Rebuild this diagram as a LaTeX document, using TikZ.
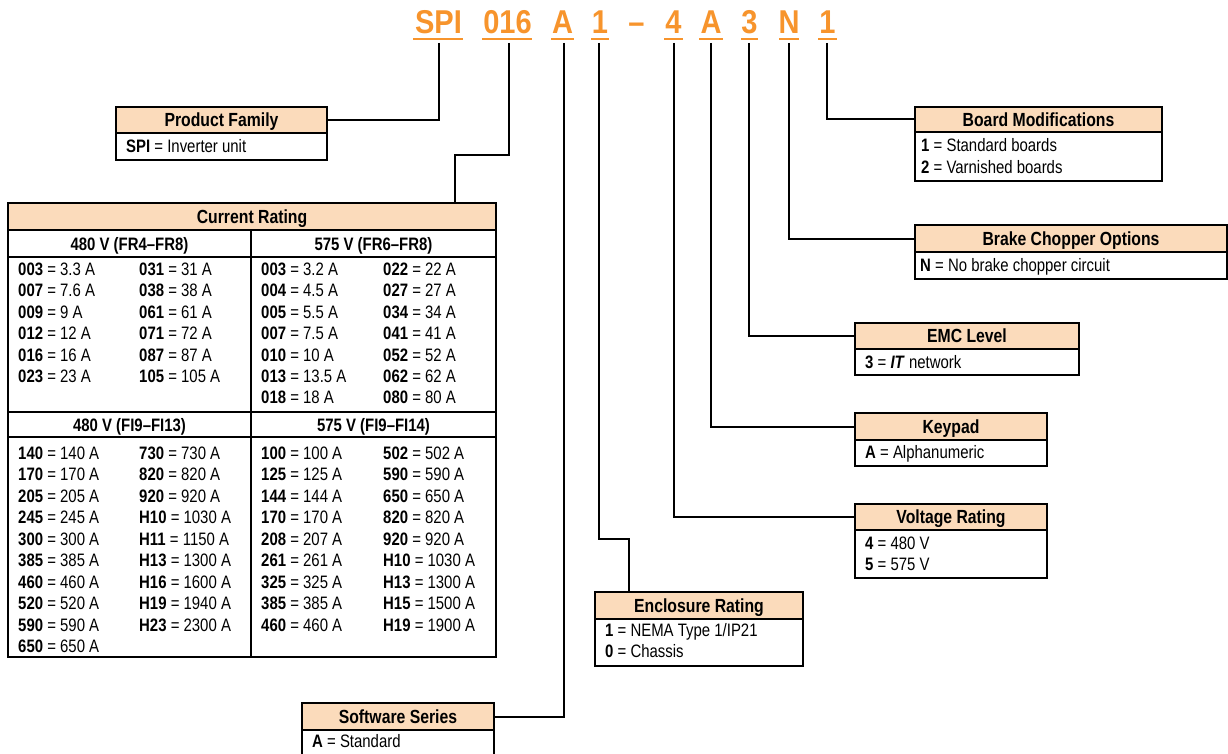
\documentclass[tikz,border=0pt]{standalone}
\usepackage{fontspec}
\setmainfont{Liberation Sans}[FakeStretch=0.83]
\newfontfamily\codefnt{Liberation Sans}[FakeStretch=0.88]
\definecolor{codeorange}{RGB}{247,148,44}
\definecolor{peach}{RGB}{251,219,187}
\newcommand\hdrfnt{\bfseries\fontsize{19}{22}\selectfont}
\newcommand\subfnt{\bfseries\fontsize{18}{21}\selectfont}
\newcommand\bodyfnt{\fontsize{18}{21}\selectfont}
\begin{document}
\begin{tikzpicture}[x=1pt,y=-1pt,
  conn/.style={line width=2pt},
  uline/.style={line width=2.4pt, draw=codeorange},
  codeltr/.style={font=\codefnt\bfseries\fontsize{33}{33}\selectfont, text=codeorange, inner sep=0pt, anchor=base},
  hdr/.style={draw, line width=1.1pt, fill=peach, inner sep=0pt, font=\hdrfnt, text height=13.6pt, text depth=0pt},
  subhdr/.style={inner sep=0pt, font=\subfnt, text height=13pt, text depth=0pt},
  bodybox/.style={draw, line width=1.1pt, inner sep=0pt},
  entry/.style={anchor=base west, inner sep=0pt, font=\bodyfnt},
  rule/.style={line width=1.1pt}]
\fill[white] (0,0) rectangle (1228,754);
\useasboundingbox (0,0) rectangle (1228,754);
\clip (0,0) rectangle (1228,754);

% ---- model code ----
\node[codeltr] (cSPI) at (438.5,34) {SPI};
\node[codeltr] (c016) at (507.5,34) {016};
\node[codeltr] (cA1) at (562.5,34) {A};
\node[codeltr] (c1a) at (600,34) {1};
\node[codeltr] (cdash) at (636.5,34) {–};
\node[codeltr] (c4) at (673.5,34) {4};
\node[codeltr] (cA2) at (711,34) {A};
\node[codeltr] (c3) at (749.5,34) {3};
\node[codeltr] (cN) at (789,34) {N};
\node[codeltr] (c1b) at (827.5,34) {1};
\draw[uline] (413,39) -- (463,39);
\draw[uline] (482,39) -- (532,39);
\draw[uline] (551,39) -- (574,39);
\draw[uline] (591,39) -- (609,39);
\draw[uline] (664,39) -- (683,39);
\draw[uline] (699,39) -- (723,39);
\draw[uline] (741,39) -- (758,39);
\draw[uline] (779,39) -- (799,39);
\draw[uline] (818,39) -- (837,39);

\foreach \n/\x in {SPI/439,016/509,A1/564,1a/599,4/674,A2/711,3/749,N/789,1b/827}
  \coordinate (s\n) at (\x,43);

% ---- Product Family ----
\node[bodybox, minimum width=211pt, minimum height=27pt] (pfb) at (221.5,146.5) {};
\node[hdr, minimum width=211pt, minimum height=26pt] (pfh) at (221.5,120) {Product Family};
\node[entry] (pft) at (126,152.5) {\textbf{SPI} = Inverter unit};

% ---- Current Rating table ----
\node[bodybox, minimum width=488pt, minimum height=427pt] (crb) at (252,443.5) {};
\node[hdr, minimum width=488pt, minimum height=27pt] (crh) at (252,216.5) {Current Rating};
\draw[rule] (8,257) -- (496,257);
\draw[rule] (8,412) -- (496,412);
\draw[rule] (8,437) -- (496,437);
\draw[rule] (251,230) -- (251,657);
\node[subhdr] (sa) at (129.5,243.5) {480 V (FR4–FR8)};
\node[subhdr] (sb) at (373.5,243.5) {575 V (FR6–FR8)};
\node[subhdr] (sc) at (129.5,424.5) {480 V (FI9–FI13)};
\node[subhdr] (sd) at (373.5,424.5) {575 V (FI9–FI14)};
\foreach \c/\v [count=\i from 0] in {003/3.3,007/7.6,009/9,012/12,016/16,023/23}
  \node[entry] (ta\i) at (18,{275.5+21.4*\i}) {\textbf{\c} = \v\ A};
\foreach \c/\v [count=\i from 0] in {031/31,038/38,061/61,071/72,087/87,105/105}
  \node[entry] (tb\i) at (139,{275.5+21.4*\i}) {\textbf{\c} = \v\ A};
\foreach \c/\v [count=\i from 0] in {003/3.2,004/4.5,005/5.5,007/7.5,010/10,013/13.5,018/18}
  \node[entry] (tc\i) at (261,{275.5+21.4*\i}) {\textbf{\c} = \v\ A};
\foreach \c/\v [count=\i from 0] in {022/22,027/27,034/34,041/41,052/52,062/62,080/80}
  \node[entry] (td\i) at (383,{275.5+21.4*\i}) {\textbf{\c} = \v\ A};
\foreach \c/\v [count=\i from 0] in {140/140,170/170,205/205,245/245,300/300,385/385,460/460,520/520,590/590,650/650}
  \node[entry] (te\i) at (18,{459+21.5*\i}) {\textbf{\c} = \v\ A};
\foreach \c/\v [count=\i from 0] in {730/730,820/820,920/920,H10/1030,H11/1150,H13/1300,H16/1600,H19/1940,H23/2300}
  \node[entry] (tf\i) at (139,{459+21.5*\i}) {\textbf{\c} = \v\ A};
\foreach \c/\v [count=\i from 0] in {100/100,125/125,144/144,170/170,208/207,261/261,325/325,385/385,460/460}
  \node[entry] (tg\i) at (261,{459+21.5*\i}) {\textbf{\c} = \v\ A};
\foreach \c/\v [count=\i from 0] in {502/502,590/590,650/650,820/820,920/920,H10/1030,H13/1300,H15/1500,H19/1900}
  \node[entry] (th\i) at (383,{459+21.5*\i}) {\textbf{\c} = \v\ A};

% ---- Software Series ----
\node[bodybox, minimum width=192pt, minimum height=40pt] (ssb) at (398,750) {};
\node[hdr, minimum width=192pt, minimum height=27pt] (ssh) at (398,716.5) {Software Series};
\node[entry] (sst) at (312,747.5) {\textbf{A} = Standard};

% ---- Enclosure Rating ----
\node[bodybox, minimum width=208pt, minimum height=47pt] (erb) at (699,642.5) {};
\node[hdr, minimum width=208pt, minimum height=27pt] (erh) at (699,605.5) {Enclosure Rating};
\node[entry] (ert1) at (605,636.5) {\textbf{1} = NEMA Type 1/IP21};
\node[entry] (ert2) at (605,657.5) {\textbf{0} = Chassis};
\coordinate (ertop) at (629,592);

% ---- Voltage Rating ----
\node[bodybox, minimum width=192pt, minimum height=48pt] (vrb) at (951,554) {};
\node[hdr, minimum width=192pt, minimum height=26pt] (vrh) at (951,517) {Voltage Rating};
\node[entry] (vrt1) at (865,549.5) {\textbf{4} = 480 V};
\node[entry] (vrt2) at (865,570.5) {\textbf{5} = 575 V};

% ---- Keypad ----
\node[bodybox, minimum width=192pt, minimum height=26pt] (kpb) at (951,453) {};
\node[hdr, minimum width=192pt, minimum height=27pt] (kph) at (951,426.5) {Keypad};
\node[entry] (kpt) at (865,458.5) {\textbf{A} = Alphanumeric};

% ---- EMC Level ----
\node[bodybox, minimum width=224pt, minimum height=26pt] (emb) at (967,362) {};
\node[hdr, minimum width=224pt, minimum height=26pt] (emh) at (967,336) {EMC Level};
\node[entry] (emt) at (865,368.5) {\textbf{3} = \textbf{\textit{IT}} network};

% ---- Brake Chopper Options ----
\node[bodybox, minimum width=312pt, minimum height=27pt] (bcb) at (1071,265.5) {};
\node[hdr, minimum width=312pt, minimum height=27pt] (bch) at (1071,238.5) {Brake Chopper Options};
\node[entry] (bct) at (920,271.5) {\textbf{N} = No brake chopper circuit};

% ---- Board Modifications ----
\node[bodybox, minimum width=247pt, minimum height=49pt] (bmb) at (1038.5,156.5) {};
\node[hdr, minimum width=247pt, minimum height=25pt] (bmh) at (1038.5,119.5) {Board Modifications};
\node[entry] (bmt1) at (921,151.5) {\textbf{1} = Standard boards};
\node[entry] (bmt2) at (921,173.5) {\textbf{2} = Varnished boards};

% ---- connectors ----
\draw[conn] (sSPI) |- (pfh.east);
\draw[conn] (s016) -- ++(0,112) -| (crh.north -| 455,0);
\draw[conn] (sA1) |- (ssh.east);
\draw[conn] (s1a) -- ++(0,496) -| (ertop);
\draw[conn] (s4) |- (vrh.west);
\draw[conn] (sA2) |- (kph.west);
\draw[conn] (s3) |- (emh.west);
\draw[conn] (sN) |- (bch.west);
\draw[conn] (s1b) |- (bmh.west);
\end{tikzpicture}
\end{document}
